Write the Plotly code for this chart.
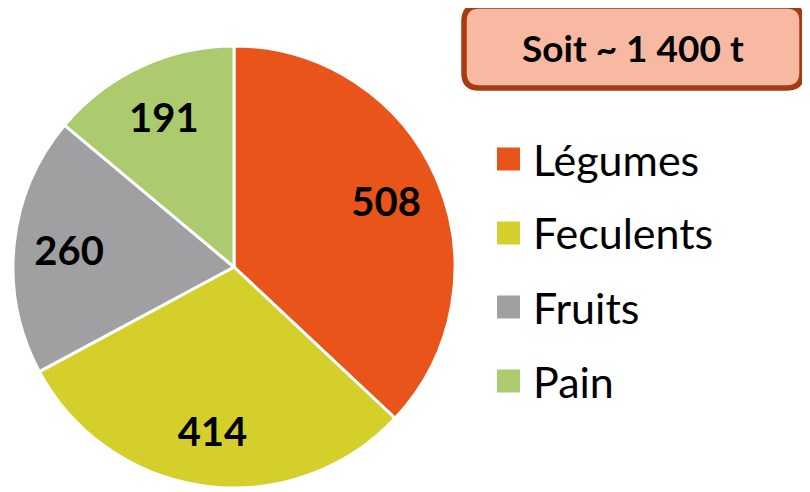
import plotly.graph_objects as go

categories = ["Légumes", "Feculents", "Fruits", "Pain"]
values = [508, 414, 260, 191]
colors = ["#E85419", "#D5CF2C", "#A0A0A3", "#ABCB6E"]
total_label = "Soit ~ 1 400 t"

# page body has an 8px margin; the figure fills the rest of the 810x492 window
OFF = 8
W, H = 810 - OFF, 492 - OFF

def px(x):
    return (x - OFF) / W

def py(y):
    return 1 - (y - OFF) / H

dom_x = [px(13), px(455)]
dom_y = [py(488), py(46)]

fig = go.Figure()
# visible pie
fig.add_trace(go.Pie(
    labels=categories, values=values, sort=False, direction="clockwise",
    rotation=0, domain=dict(x=dom_x, y=dom_y),
    marker=dict(colors=colors, line=dict(color="white", width=3)),
    textinfo="none", showlegend=False, hoverinfo="label+value",
))
# label layer (hole used only to place labels at ~3/4 radius)
fig.add_trace(go.Pie(
    labels=categories, values=values, sort=False, direction="clockwise",
    rotation=0, domain=dict(x=dom_x, y=dom_y), hole=0.5,
    marker=dict(colors=["rgba(0,0,0,0)"] * len(values), line=dict(width=0)),
    texttemplate="<b>%{value}</b>", textposition="inside",
    insidetextorientation="horizontal",
    textfont=dict(family="Lato", size=40, color="black"),
    showlegend=False, hoverinfo="skip",
))

shapes = []
annotations = []

# manual legend
for i, (cat, col) in enumerate(zip(categories, colors)):
    yc = 159 + i * 74
    shapes.append(dict(type="rect", xref="paper", yref="paper",
                       x0=px(497), x1=px(520), y0=py(yc + 11.5), y1=py(yc - 11.5),
                       fillcolor=col, line=dict(width=0)))
    annotations.append(dict(text=cat, xref="paper", yref="paper",
                            x=px(531), y=py(yc), xanchor="left", yanchor="middle",
                            showarrow=False,
                            font=dict(family="Lato", size=43, color="black")))

# rounded box
x0, x1, y0, y1, r = 464, 802, 6, 88, 15
rx, ry = r / W, r / H
X0, X1, Y0, Y1 = px(x0), px(x1), py(y1), py(y0)
path = (f"M {X0+rx},{Y1} L {X1-rx},{Y1} Q {X1},{Y1} {X1},{Y1-ry} "
        f"L {X1},{Y0+ry} Q {X1},{Y0} {X1-rx},{Y0} "
        f"L {X0+rx},{Y0} Q {X0},{Y0} {X0},{Y0+ry} "
        f"L {X0},{Y1-ry} Q {X0},{Y1} {X0+rx},{Y1} Z")
shapes.append(dict(type="path", xref="paper", yref="paper", path=path,
                   fillcolor="#F7B9A1", line=dict(color="#A83A12", width=5.5)))
annotations.append(dict(text=f"<b>{total_label}</b>", xref="paper", yref="paper",
                        x=px(633), y=py(48), xanchor="center", yanchor="middle",
                        showarrow=False,
                        font=dict(family="Lato", size=37, color="black")))

fig.update_layout(
    width=W, height=H, margin=dict(l=0, r=0, t=0, b=0),
    paper_bgcolor="white", plot_bgcolor="white",
    shapes=shapes, annotations=annotations, showlegend=False,
)

fig.write_html("out.html")
